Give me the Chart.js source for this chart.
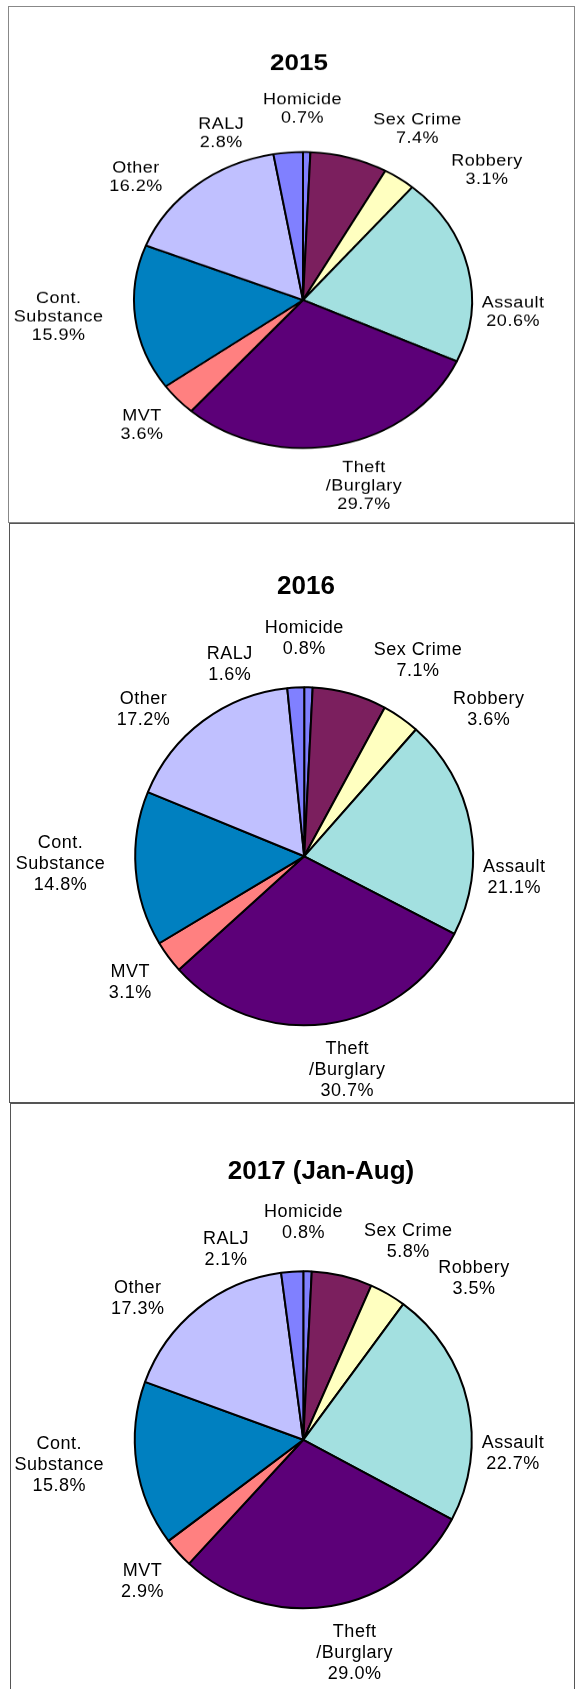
<!DOCTYPE html>
<html>
<head>
<meta charset="UTF-8">
<title>Crime Share by Category 2015-2017</title>
<script src="https://cdn.jsdelivr.net/npm/chart.js"></script>
<style>
  body { margin: 0; width: 575px; height: 1689px; overflow: hidden; background: #fff; }
  .panel { position: absolute; border: 1px solid #555; background: #fff; overflow: hidden; }
  .panel canvas { position: absolute; left: 0; top: 0; transform-origin: 0 0; }
</style>
</head>
<body>
<div class="panel" style="left:8px; top:6px; width:565px; height:515px; border-color:#888;"><canvas id="c2015"></canvas></div>
<div class="panel" style="left:9px; top:523px; width:564px; height:578px;"><canvas id="c2016"></canvas></div>
<div class="panel" style="left:10px; top:1103px; width:563px; height:600px;"><canvas id="c2017"></canvas></div>
<script>
// data
const categories = ['Homicide', 'Sex Crime', 'Robbery', 'Assault', ['Theft', '/Burglary'], 'MVT', ['Cont.', 'Substance'], 'Other', 'RALJ'];
const share2015 = [0.7, 7.4, 3.1, 20.6, 29.7, 3.6, 15.9, 16.2, 2.8];
const share2016 = [0.8, 7.1, 3.6, 21.1, 30.7, 3.1, 14.8, 17.2, 1.6];
const share2017 = [0.8, 5.8, 3.5, 22.7, 29.0, 2.9, 15.8, 17.3, 2.1];
const titles = ['2015', '2016', '2017 (Jan-Aug)'];

const sliceColors = ['#8080FF', '#7B1F5E', '#FFFFC0', '#A3E0E0', '#5C0078', '#FF8080', '#0080C0', '#C0C0FF', '#8080FF'];

// label layout: turn away from the slice middle (degrees) and gap from the rim
const labelTurn = [-1.4, 14.5, 16.5, 16.5, -4, 0.6, 2.5, -10.8, -18.3];
const labelGap = [28, 17, 26, 9, 11, 16, 29, 15, 9];
const LINE_H = 21;
const FONT = '"Liberation Sans", Arial, Helvetica, sans-serif';

const sliceLabels = {
  id: 'sliceLabels',
  afterDatasetsDraw(chart, args, opts) {
    var ctx = chart.ctx;
    var meta = chart.getDatasetMeta(0);
    var values = chart.data.datasets[0].data;
    ctx.save();
    ctx.fillStyle = '#000';
    ctx.textAlign = 'center';
    ctx.textBaseline = 'middle';
    ctx.font = '18px ' + FONT;
    ctx.letterSpacing = '0.5px';
    meta.data.forEach(function(arc, i) {
      var p = arc.getProps(['x', 'y', 'startAngle', 'endAngle', 'outerRadius'], true);
      var a = (p.startAngle + p.endAngle) / 2 + labelTurn[i] * Math.PI / 180;
      var ux = Math.cos(a), uy = Math.sin(a);
      var name = chart.data.labels[i];
      var lines = (Array.isArray(name) ? name : [name]).concat(values[i].toFixed(1) + '%');
      var w = Math.max.apply(null, lines.map(function(l) { return ctx.measureText(l).width; }));
      var h = lines.length * LINE_H;
      var dist = p.outerRadius + labelGap[i] + Math.abs(ux) * w / 2 + Math.abs(uy) * h / 2;
      var cx = p.x + ux * dist, cy = p.y + uy * dist;
      lines.forEach(function(l, k) {
        ctx.fillText(l, cx, cy - h / 2 + LINE_H * (k + 0.5));
      });
    });
    // chart title
    ctx.letterSpacing = '0px';
    ctx.font = 'bold 26px ' + FONT;
    ctx.fillText(opts.text, opts.x, opts.y);
    ctx.restore();
  }
};

// cx, cy = wanted pie centre on the canvas, squash = vertical scale of the panel
function drawPie(id, values, title, box) {
  var canvas = document.getElementById(id);
  canvas.width = box.w;
  canvas.height = box.h;
  if (box.squash !== 1) canvas.style.transform = 'scaleY(' + box.squash + ')';
  var half = box.r + 6;
  new Chart(canvas, {
    type: 'pie',
    data: {
      labels: categories,
      datasets: [{
        data: values,
        backgroundColor: sliceColors,
        borderColor: '#000',
        borderWidth: 2,
        hoverOffset: 0
      }]
    },
    options: {
      responsive: false,
      animation: false,
      devicePixelRatio: 1,
      radius: box.r,
      layout: {
        padding: {
          left: Math.max(2 * box.cx - box.w, 0),
          right: Math.max(box.w - 2 * box.cx, 0),
          top: box.cy - half,
          bottom: box.h - box.cy - half
        }
      },
      plugins: {
        legend: { display: false },
        tooltip: { enabled: false },
        sliceLabels: { text: title, x: box.tx, y: box.ty }
      }
    },
    plugins: [sliceLabels]
  });
}

drawPie('c2015', share2015, titles[0], { w: 565, h: 588, cx: 294, cy: 334.5, r: 169, squash: 0.876, tx: 290, ty: 65 });
drawPie('c2016', share2016, titles[1], { w: 564, h: 578, cx: 294.2, cy: 332.3, r: 169, squash: 1, tx: 296, ty: 63 });
drawPie('c2017', share2017, titles[2], { w: 563, h: 584, cx: 292.3, cy: 335.8, r: 168.5, squash: 1, tx: 310, ty: 68 });
</script>
</body>
</html>
